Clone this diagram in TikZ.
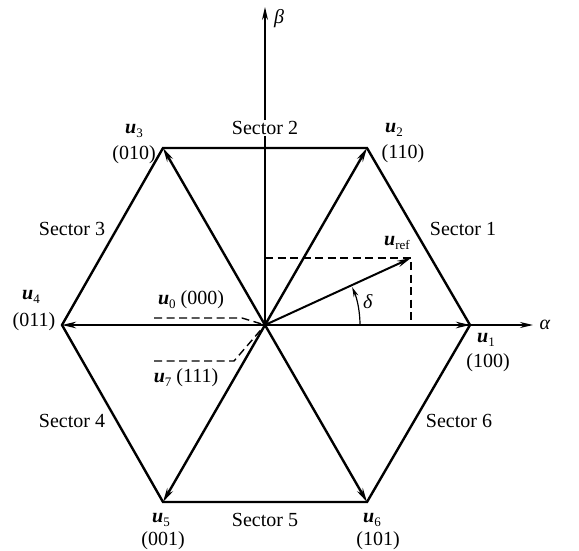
\documentclass[tikz,border=0pt]{standalone}
\usepackage{fontspec}
\setmainfont{Liberation Serif}
\usetikzlibrary{arrows.meta,calc}
\newcommand\vu[1]{\textbf{\textit{u}}\raisebox{-0.35ex}{\fontsize{13}{13}\selectfont #1}}
\tikzset{
  thickline/.style={line width=2.4pt, line join=miter},
  vec/.style={line width=2.4pt, -{Stealth[length=14pt,width=6.5pt]}},
  axis/.style={line width=1.4pt, -{Stealth[length=13pt,width=6pt]}},
  dashline/.style={line width=1.4pt, dash pattern=on 8pt off 4.5pt},
  lbl/.style={inner sep=1pt, font=\fontsize{20}{22}\selectfont},
}
\begin{document}
\begin{tikzpicture}[x=1pt,y=-1pt]
\useasboundingbox (0,0) rectangle (579,550);
\coordinate (O) at (265,325);
\coordinate (V1) at (470,325);
\coordinate (V2) at (367,148);
\coordinate (V3) at (163,148);
\coordinate (V4) at (62,325);
\coordinate (V5) at (163,502);
\coordinate (V6) at (367,502);
\coordinate (AX) at (533,325);
\coordinate (BY) at (265,7);
\coordinate (R) at (411,258);
\coordinate (RH) at (265,258);
\coordinate (RV) at (411,325);
% axes
\draw[axis] (O) -- (AX);
\draw[axis] (O) -- (BY);
% hexagon
\draw[thickline] (V1) -- (V2) -- (V3) -- (V4) -- (V5) -- (V6) -- cycle;
% vectors
\foreach \v in {V1,V2,V3,V4,V5,V6} \draw[vec] (O) -- (\v);
% u_ref
\draw[dashline] (RH) -- (R) -- (RV);
\draw[vec, line width=2pt] (O) -- (R);
\draw[line width=1.2pt, -{Stealth[length=10pt,width=5pt]}] ($(O)+(95,0)$) arc[start angle=0, end angle=-23.5, radius=95];
% leaders for zero vectors
\coordinate (Z0a) at (154,318);
\coordinate (Z0b) at (242,318);
\coordinate (Z7a) at (154,361);
\coordinate (Z7b) at (234,361);
\draw[dashline] (Z0a) -- (Z0b) -- (O);
\draw[dashline] (Z7a) -- (Z7b) -- (O);
% labels
\node[lbl] (la) at (545,325) {\textit{α}};
\node[lbl] (lb) at (279,19) {\textit{β}};
\node[lbl] (ld) at (368,302) {\textit{δ}};
\node[lbl] (lr) at (397,243) {\vu{ref}};
\node[lbl] (l0) at (191,300) {\vu{0} (000)};
\node[lbl] (l7) at (186,378) {\vu{7} (111)};
\node[lbl] (l1a) at (486,340) {\vu{1}};
\node[lbl] (l1b) at (488,363) {(100)};
\node[lbl] (l2a) at (394,130) {\vu{2}};
\node[lbl] (l2b) at (403,154) {(110)};
\node[lbl] (l3a) at (134,131) {\vu{3}};
\node[lbl] (l3b) at (134,155) {(010)};
\node[lbl] (l4a) at (31,297) {\vu{4}};
\node[lbl] (l4b) at (34,322) {(011)};
\node[lbl] (l5a) at (161,520) {\vu{5}};
\node[lbl] (l5b) at (163,541) {(001)};
\node[lbl] (l6a) at (372,520) {\vu{6}};
\node[lbl] (l6b) at (378,541) {(101)};
\node[lbl] (s1) at (463,229) {Sector 1};
\node[lbl, fill=white] (s2) at (265,128) {Sector 2};
\node[lbl] (s3) at (72,229) {Sector 3};
\node[lbl] (s4) at (72,421) {Sector 4};
\node[lbl] (s5) at (265,520) {Sector 5};
\node[lbl] (s6) at (459,421) {Sector 6};
\end{tikzpicture}
\end{document}
